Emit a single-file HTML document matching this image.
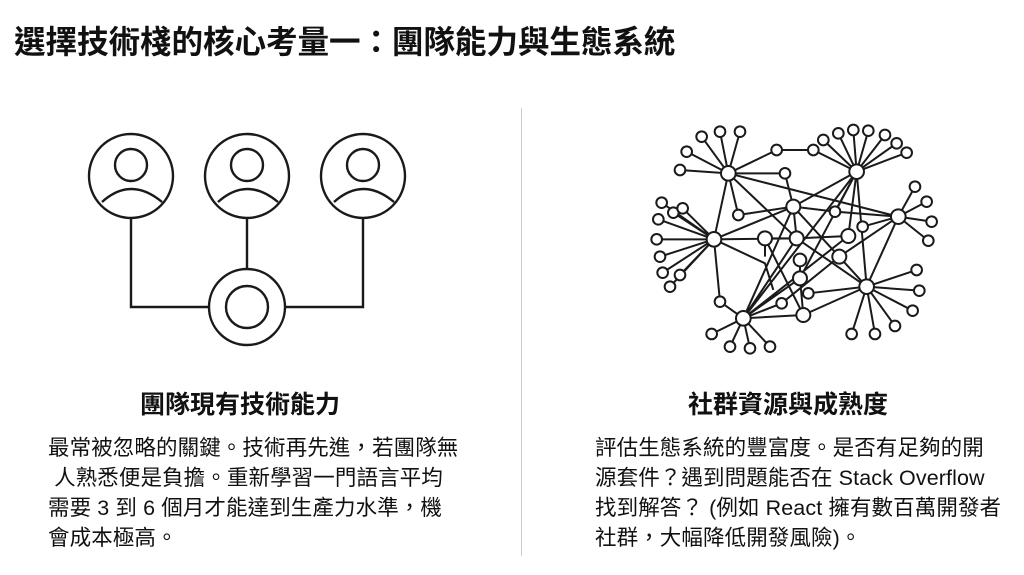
<!DOCTYPE html>
<html><head><meta charset="utf-8"><style>
body{margin:0;width:1024px;height:575px;background:#fff;position:relative;overflow:hidden;font-family:"Liberation Sans","Noto Sans CJK TC",sans-serif;color:#111}
.t{position:absolute;white-space:nowrap;line-height:1}
.title{left:14px;top:27px;font-size:31.6px;font-weight:bold;letter-spacing:-0.1px}
.h{font-size:25px;font-weight:bold;top:393px}
.b{font-size:21.5px;letter-spacing:0.1px}
</style></head><body>
<div class="t title">選擇技術棧的核心考量一：團隊能力與生態系統</div>
<div style="position:absolute;left:521px;top:108px;width:1px;height:448px;background:#ccc"></div>
<svg width="1024" height="575" style="position:absolute;left:0;top:0" fill="none" stroke="#1a1a1a" stroke-width="2.4">
<g>
<path d="M131 219V307H209M363 219V307H285M247 219V269"/>
<circle cx="131" cy="176" r="42" fill="#fff"/><circle cx="131" cy="165" r="16"/><path d="M102 202Q131 176 162 202"/>
<circle cx="247" cy="176" r="42" fill="#fff"/><circle cx="247" cy="165" r="16"/><path d="M218 202Q247 176 278 202"/>
<circle cx="363" cy="176" r="42" fill="#fff"/><circle cx="363" cy="165" r="16"/><path d="M334 202Q363 176 394 202"/>
<circle cx="247" cy="307" r="38" fill="#fff"/><circle cx="247" cy="307" r="21"/>
</g>
<g transform="translate(640,110) scale(0.3333)" stroke-width="6">
<path d="
M265 190L185 80M265 190L240 65M265 190L300 65M265 190L140 125M265 190L120 180M265 190L435 190M265 190L295 315
M265 190L410 120L520 120L650 185
M650 185L550 90M650 185L595 70M650 185L640 60M650 185L685 62M650 185L735 75M650 185L770 100M650 185L800 128M650 185L585 305
M222 388L65 278M222 388L100 308M222 388L128 295M222 388L55 328M222 388L50 388M222 388L60 440M222 388L68 488M222 388L90 530M222 388L120 495
M775 320L825 230M775 320L860 275M775 320L875 335M775 320L865 392M775 320L668 350
M680 530L830 480M680 530L838 542M680 530L818 602M680 530L765 648M680 530L705 672M680 530L635 672M680 530L505 550
M310 625L240 575M310 625L215 672M310 625L270 710M310 625L330 715M310 625L390 710M310 625L425 580
M265 190L222 388M265 190L470 385M265 190L775 320M435 190L460 290M222 388L460 290M222 388L470 385M222 388L240 575M222 388L375 460L400 540
M295 315L460 290L585 305L775 320M460 290L650 185M460 290L310 625M460 290L680 530M470 385L625 378M470 385L680 530M470 385L310 625
M650 185L310 625M650 185L625 378M650 185L680 530M650 185L480 505M775 320L680 530M775 320L598 440M375 385L490 615M375 385L470 385
M460 290L470 385M490 615L680 530M490 615L310 625M480 505L310 625M480 450L480 505M598 440L425 580M625 378L310 625M375 385L375 440M480 505L490 615"/>
<g fill="#fff">
<circle cx="265" cy="190" r="22"/><circle cx="650" cy="185" r="22"/><circle cx="222" cy="388" r="22"/><circle cx="460" cy="290" r="21"/>
<circle cx="470" cy="385" r="21"/><circle cx="375" cy="385" r="21"/><circle cx="625" cy="378" r="21"/><circle cx="775" cy="320" r="22"/>
<circle cx="680" cy="530" r="22"/><circle cx="310" cy="625" r="22"/><circle cx="490" cy="615" r="21"/><circle cx="480" cy="505" r="21"/>
<circle cx="480" cy="450" r="19"/><circle cx="598" cy="440" r="21"/>
<g>
<circle cx="185" cy="80" r="16"/><circle cx="240" cy="65" r="16"/><circle cx="300" cy="65" r="16"/><circle cx="140" cy="125" r="16"/><circle cx="120" cy="180" r="16"/><circle cx="435" cy="190" r="16"/><circle cx="295" cy="315" r="16"/>
<circle cx="410" cy="120" r="16"/><circle cx="520" cy="120" r="16"/>
<circle cx="550" cy="90" r="16"/><circle cx="595" cy="70" r="16"/><circle cx="640" cy="60" r="16"/><circle cx="685" cy="62" r="16"/><circle cx="735" cy="75" r="16"/><circle cx="770" cy="100" r="16"/><circle cx="800" cy="128" r="16"/><circle cx="585" cy="305" r="16"/>
<circle cx="65" cy="278" r="16"/><circle cx="100" cy="308" r="16"/><circle cx="128" cy="295" r="16"/><circle cx="55" cy="328" r="16"/><circle cx="50" cy="388" r="16"/><circle cx="60" cy="440" r="16"/><circle cx="68" cy="488" r="16"/><circle cx="90" cy="530" r="16"/><circle cx="120" cy="495" r="16"/>
<circle cx="825" cy="230" r="16"/><circle cx="860" cy="275" r="16"/><circle cx="875" cy="335" r="16"/><circle cx="865" cy="392" r="16"/><circle cx="668" cy="350" r="16"/>
<circle cx="830" cy="480" r="16"/><circle cx="838" cy="542" r="16"/><circle cx="818" cy="602" r="16"/><circle cx="765" cy="648" r="16"/><circle cx="705" cy="672" r="16"/><circle cx="635" cy="672" r="16"/><circle cx="505" cy="550" r="16"/>
<circle cx="240" cy="575" r="16"/><circle cx="215" cy="672" r="16"/><circle cx="270" cy="710" r="16"/><circle cx="330" cy="715" r="16"/><circle cx="390" cy="710" r="16"/><circle cx="425" cy="580" r="16"/>
</g></g></g>
</svg>
<div class="t h" style="left:140px">團隊現有技術能力</div>
<div class="t h" style="left:688px">社群資源與成熟度</div>
<div class="t b" style="left:48px;top:438px">最常被忽略的關鍵。技術再先進，若團隊無</div>
<div class="t b" style="left:48px;top:468px">&nbsp;人熟悉便是負擔。重新學習一門語言平均</div>
<div class="t b" style="left:48px;top:498px">需要 3 到 6 個月才能達到生產力水準，機</div>
<div class="t b" style="left:48px;top:528px">會成本極高。</div>
<div class="t b" style="left:595px;top:438px">評估生態系統的豐富度。是否有足夠的開</div>
<div class="t b" style="left:595px;top:468px">源套件？遇到問題能否在 Stack Overflow</div>
<div class="t b" style="left:595px;top:498px">找到解答？ (例如 React 擁有數百萬開發者</div>
<div class="t b" style="left:595px;top:528px">社群，大幅降低開發風險)。</div>
</body></html>
